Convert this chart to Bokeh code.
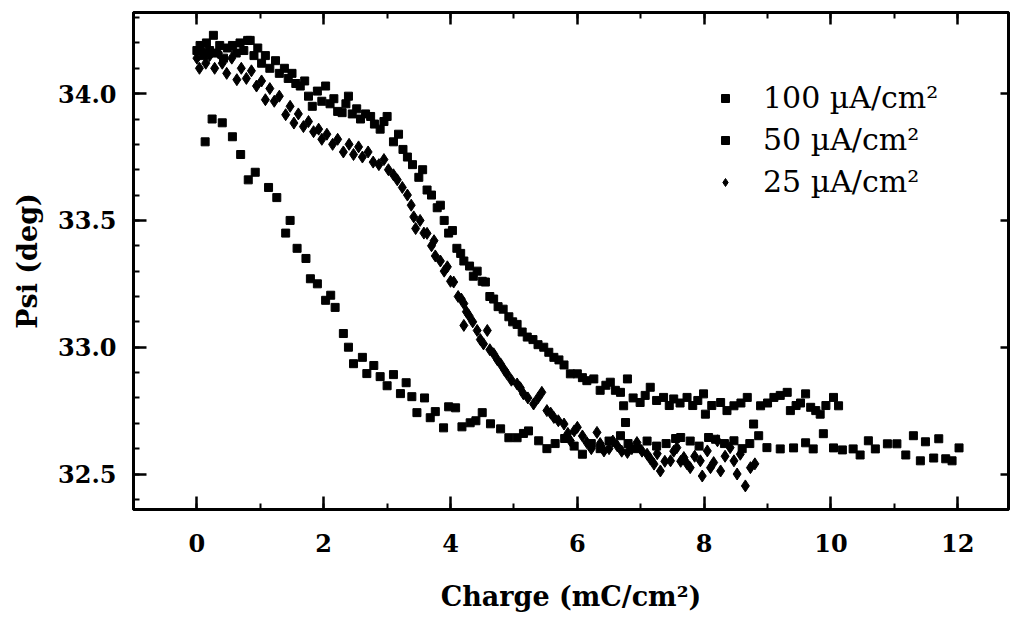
import numpy as np
from bokeh.plotting import figure
from bokeh.models import (LinearAxis, SingleIntervalTicker, PrintfTickFormatter,
                          Legend, LegendItem, Range1d)
from bokeh.embed import file_html
from bokeh.resources import INLINE

# ---- data ----
# 100 uA/cm^2
x100 = [0.13,0.24,0.40,0.56,0.69,0.81,0.92,1.13,1.26,1.40,1.47,1.58,1.72,1.79,1.90,2.03,2.11,2.18,
        2.31,2.39,2.47,2.61,2.68,2.79,2.89,3.00,3.10,3.21,3.30,3.39,3.47,3.59,3.68,3.76,3.89,3.97,
        4.08,4.18,4.31,4.40,4.50,4.63,4.79,4.92,5.05,5.15,5.23,5.39,5.52,5.65,5.80,5.95,6.08,6.22,
        6.36,6.50,6.68,6.80,6.95,7.10,7.25,7.40,7.55,7.63,7.78,7.92,8.07,8.18,8.32,8.47,8.60,8.72,
        8.86,8.99,9.20,9.41,9.60,9.72,9.88,10.04,10.18,10.35,10.46,10.59,10.70,10.89,11.04,11.18,
        11.30,11.41,11.49,11.62,11.70,11.81,11.91,12.02]
y100 = [33.81,33.90,33.885,33.83,33.76,33.66,33.69,33.63,33.59,33.45,33.50,33.39,33.35,33.27,33.25,
        33.185,33.205,33.157,33.054,33.0,32.935,32.96,32.896,32.928,32.884,32.848,32.892,32.817,
        32.86,32.805,32.742,32.80,32.722,32.746,32.682,32.765,32.761,32.686,32.702,32.71,32.742,
        32.698,32.678,32.643,32.643,32.66,32.67,32.631,32.60,32.62,32.64,32.61,32.578,32.62,32.60,
        32.63,32.651,32.62,32.60,32.63,32.61,32.62,32.64,32.644,32.63,32.61,32.644,32.637,32.62,
        32.631,32.60,32.62,32.651,32.604,32.599,32.603,32.623,32.599,32.659,32.603,32.595,32.599,
        32.575,32.631,32.599,32.619,32.619,32.575,32.651,32.552,32.627,32.563,32.639,32.56,32.552,
        32.603]

# 50 uA/cm^2
x50 = [0.0,0.05,0.10,0.15,0.20,0.26,0.30,0.36,0.42,0.48,0.56,0.62,0.68,0.74,0.80,0.84,0.90,0.96,
       1.02,1.08,1.15,1.24,1.30,1.38,1.44,1.50,1.56,1.63,1.70,1.76,1.82,1.90,1.97,2.03,2.10,2.16,
       2.22,2.29,2.35,2.39,2.45,2.52,2.58,2.66,2.74,2.80,2.89,2.95,3.00,3.10,3.18,3.25,3.32,3.40,
       3.50,3.56,3.63,3.70,3.79,3.84,3.90,3.97,4.03,4.10,4.16,4.21,4.30,4.36,4.42,4.50,4.55,4.62,
       4.68,4.75,4.83,4.92,4.98,5.05,5.13,5.21,5.30,5.38,5.47,5.55,5.63,5.71,5.79,5.89,6.00,6.08,
       6.15,6.26,6.36,6.45,6.52,6.60,6.68,6.73,6.76,6.79,6.88,6.99,7.07,7.15,7.25,7.36,7.45,7.52,
       7.62,7.73,7.82,7.90,7.99,8.02,8.12,8.26,8.36,8.47,8.58,8.68,8.78,8.89,9.00,9.10,9.20,9.31,
       9.36,9.45,9.52,9.60,9.68,9.76,9.83,9.92,10.04,10.12]
y50 = [34.17,34.19,34.15,34.20,34.17,34.23,34.16,34.19,34.14,34.18,34.19,34.16,34.20,34.17,34.21,
       34.21,34.15,34.18,34.12,34.15,34.10,34.13,34.08,34.10,34.06,34.08,34.04,34.03,34.05,33.99,
       33.95,34.01,33.97,34.03,33.96,33.98,33.93,33.925,33.96,33.99,33.92,33.94,33.90,33.92,33.91,
       33.88,33.86,33.89,33.91,33.81,33.84,33.78,33.75,33.72,33.67,33.70,33.62,33.60,33.55,33.56,
       33.50,33.45,33.46,33.39,33.37,33.34,33.32,33.28,33.30,33.26,33.257,33.20,33.19,33.16,33.15,
       33.12,33.10,33.09,33.06,33.04,33.03,33.01,33.00,32.98,32.96,32.95,32.93,32.895,32.895,32.88,
       32.868,32.875,32.83,32.85,32.862,32.83,32.822,32.769,32.703,32.875,32.80,32.782,32.81,32.842,
       32.79,32.802,32.77,32.796,32.78,32.802,32.77,32.79,32.816,32.736,32.77,32.782,32.75,32.769,
       32.78,32.802,32.697,32.769,32.78,32.802,32.81,32.822,32.75,32.77,32.78,32.816,32.763,32.75,
       32.736,32.77,32.802,32.769]

# 25 uA/cm^2
x25 = [0.0,0.04,0.08,0.14,0.20,0.28,0.34,0.40,0.47,0.55,0.63,0.70,0.78,0.86,0.94,1.02,1.08,1.15,
       1.22,1.30,1.40,1.47,1.53,1.60,1.68,1.76,1.84,1.92,1.97,2.05,2.14,2.22,2.31,2.40,2.47,2.55,
       2.61,2.70,2.78,2.87,2.95,3.02,3.10,3.16,3.24,3.32,3.38,3.42,3.45,3.52,3.58,3.63,3.70,3.74,
       3.76,3.84,3.90,3.95,4.00,4.05,4.12,4.17,4.21,4.25,4.29,4.21,4.35,4.42,4.47,4.52,4.58,4.62,
       4.68,4.74,4.79,4.85,4.89,4.96,5.05,5.10,5.15,5.22,5.31,5.38,5.44,5.52,5.58,5.63,5.70,5.79,
       5.85,5.89,5.95,6.00,6.08,6.15,6.22,6.31,6.36,6.42,6.50,6.56,6.63,6.70,6.79,6.86,6.94,7.02,
       7.10,7.15,7.21,7.26,7.31,7.38,7.47,7.52,7.57,7.63,7.68,7.73,7.78,7.85,7.94,7.97,8.05,8.10,
       8.15,8.21,8.26,8.33,8.41,8.47,8.52,8.57,8.65,8.73,8.80]
y25 = [34.14,34.10,34.17,34.12,34.15,34.10,34.16,34.12,34.08,34.14,34.055,34.10,34.06,34.09,34.03,
       34.05,33.976,34.02,33.97,33.99,33.917,33.95,33.884,33.92,33.87,33.89,33.85,33.86,33.82,33.84,
       33.80,33.82,33.77,33.80,33.76,33.79,33.75,33.77,33.73,33.72,33.74,33.70,33.68,33.66,33.63,
       33.60,33.56,33.514,33.468,33.50,33.45,33.449,33.40,33.42,33.36,33.34,33.30,33.317,33.26,
       33.257,33.20,33.19,33.172,33.14,33.125,33.086,33.10,33.066,33.03,33.013,33.066,32.99,32.974,
       32.95,32.934,32.91,32.895,32.87,32.855,32.84,32.816,32.80,32.776,32.80,32.822,32.75,32.74,
       32.723,32.71,32.697,32.66,32.631,32.67,32.684,32.65,32.624,32.60,32.664,32.62,32.591,32.60,
       32.63,32.611,32.59,32.585,32.60,32.624,32.59,32.578,32.56,32.539,32.58,32.512,32.55,32.552,
       32.59,32.604,32.55,32.565,32.54,32.525,32.57,32.552,32.492,32.591,32.525,32.545,32.631,
       32.512,32.57,32.604,32.552,32.50,32.578,32.453,32.525,32.54]

labels = ["100 \u00b5A/cm\u00b2", "50 \u00b5A/cm\u00b2", "25 \u00b5A/cm\u00b2"]
x_ticks_major = 2
y_ticks_major = 0.5

TICK_FONT = "DejaVu Serif"

p = figure(width=1014, height=618, output_backend="svg", toolbar_location=None,
           x_range=Range1d(-1.0, 12.8), y_range=Range1d(32.36, 34.32),
           min_border_left=133, min_border_right=6, min_border_top=12, min_border_bottom=109)
p.grid.visible = False
p.outline_line_color = "black"
p.outline_line_width = 3
p.background_fill_color = "white"
p.border_fill_color = "white"

rA = p.scatter(x100, y100, marker="square", size=8, color="black")
rB = p.scatter(x50, y50, marker="square", size=8, color="black")
rC = p.scatter(x25, y25, marker="diamond", size=12, color="black")

# bottom axis
xa = p.xaxis[0]
xa.ticker = SingleIntervalTicker(interval=x_ticks_major, num_minor_ticks=2)
xa.axis_label = "Charge (mC/cm\u00b2)"
# left axis
ya = p.yaxis[0]
ya.ticker = SingleIntervalTicker(interval=y_ticks_major, num_minor_ticks=5)
ya.formatter = PrintfTickFormatter(format="%.1f")
ya.axis_label = "Psi (deg)"

for ax in (xa, ya):
    ax.axis_line_width = 3
    ax.major_tick_in = 13
    ax.major_tick_out = 0
    ax.minor_tick_in = 6
    ax.minor_tick_out = 0
    ax.major_tick_line_width = 2.5
    ax.minor_tick_line_width = 2
    ax.major_label_text_font = TICK_FONT
    ax.major_label_text_font_style = "bold"
    ax.major_label_text_font_size = "24px"
    ax.major_label_text_color = "black"
    ax.axis_label_text_font = TICK_FONT
    ax.axis_label_text_font_style = "bold"
    ax.axis_label_text_font_size = "27px"
    ax.axis_label_text_color = "black"
xa.major_label_standoff = 24
xa.axis_label_standoff = 26
ya.major_label_standoff = 17
ya.axis_label_standoff = 12

# top & right axes (ticks only)
top = LinearAxis(ticker=SingleIntervalTicker(interval=x_ticks_major, num_minor_ticks=2))
right = LinearAxis(ticker=SingleIntervalTicker(interval=y_ticks_major, num_minor_ticks=0))
for ax in (top, right):
    ax.axis_line_width = 3
    ax.major_tick_in = 12
    ax.major_tick_out = 0
    ax.minor_tick_in = 6
    ax.minor_tick_out = 0
    ax.major_tick_line_width = 2.5
    ax.minor_tick_line_width = 2
    ax.major_label_text_font_size = "0px"
    ax.major_label_standoff = 0
right.major_tick_in = 8
p.add_layout(top, "above")
p.add_layout(right, "right")

legend = Legend(items=[LegendItem(label=labels[0], renderers=[rA]),
                       LegendItem(label=labels[1], renderers=[rB]),
                       LegendItem(label=labels[2], renderers=[rC])],
                location=(582, 310), orientation="vertical",
                label_text_font="DejaVu Serif", label_text_font_size="30px",
                label_text_color="black",
                glyph_width=20, glyph_height=20, label_standoff=28, spacing=7,
                padding=0, margin=0, border_line_color=None, background_fill_alpha=0)
p.add_layout(legend)

open("out.html", "w").write(file_html(p, INLINE))
